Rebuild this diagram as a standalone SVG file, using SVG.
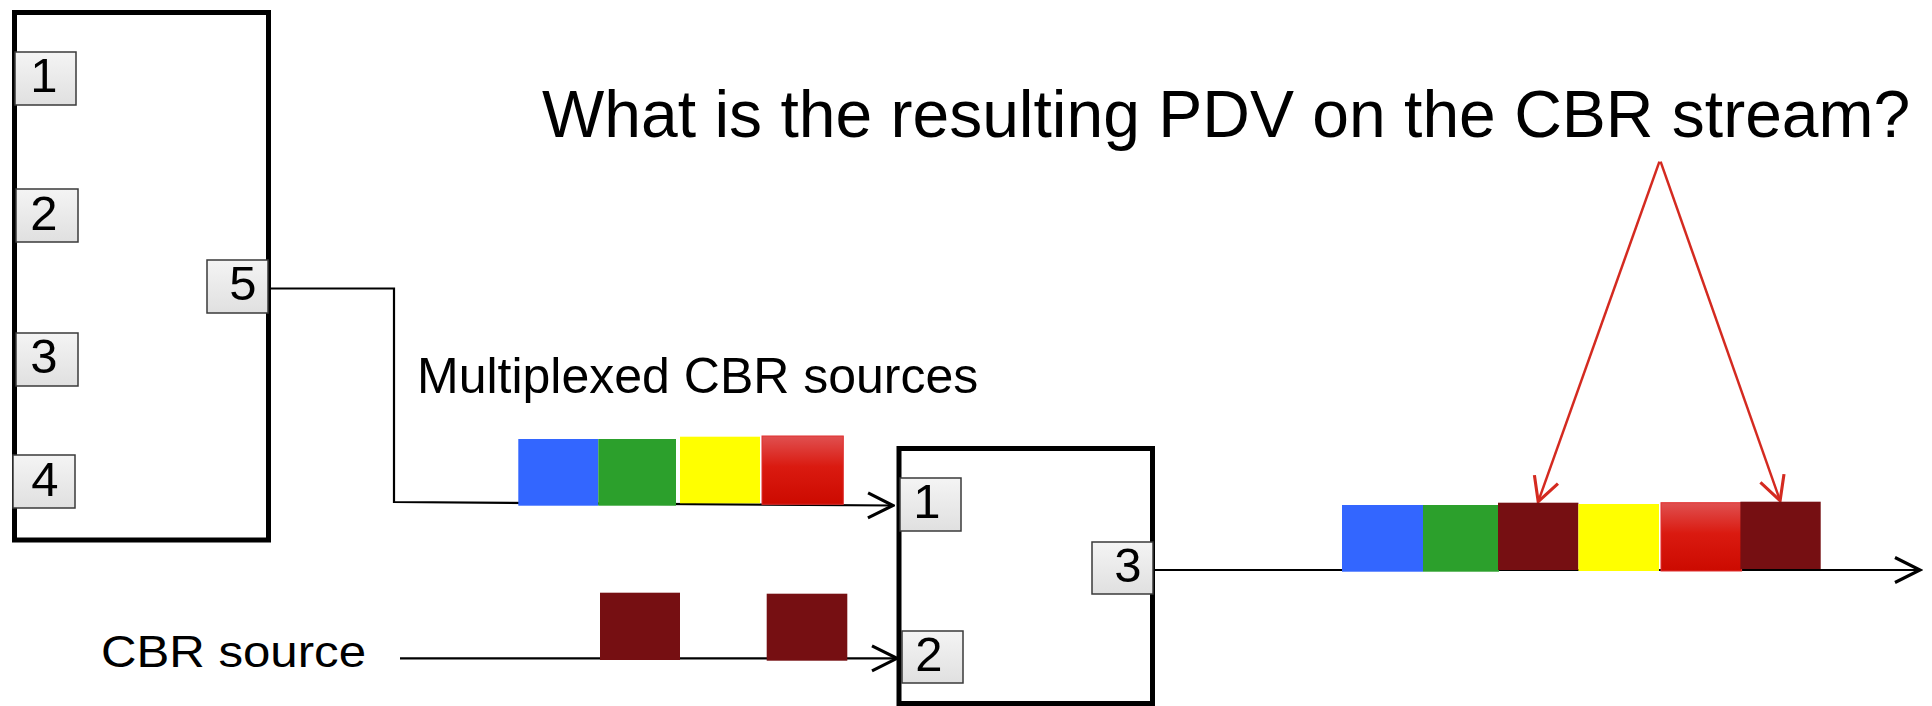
<svg xmlns="http://www.w3.org/2000/svg" width="1932" height="706" viewBox="0 0 1932 706">
<style>
.box{fill:#fff;stroke:#000;stroke-width:5}
.port{fill:url(#pg);stroke:#3a3a3a;stroke-width:1.5}
.pt{font-family:"Liberation Sans",Arial,sans-serif;font-size:49px;fill:#000;text-anchor:middle}
.lbl{font-family:"Liberation Sans",Arial,sans-serif;fill:#000}
.wire{fill:none;stroke:#000;stroke-width:2.2}
.rwire{fill:none;stroke:#d42a20;stroke-width:2.5}
.blue{fill:#3366ff}.green{fill:#2ca02c}.yellow{fill:#ffff00}.maroon{fill:#760f12}
.red{fill:url(#rg);stroke:#e03030;stroke-width:1}
</style>
<defs>
<linearGradient id="pg" x1="0" y1="0" x2="0" y2="1"><stop offset="0" stop-color="#f4f4f4"/><stop offset="1" stop-color="#e0e0e0"/></linearGradient>
<linearGradient id="rg" x1="0" y1="0" x2="0" y2="1"><stop offset="0" stop-color="#e05050"/><stop offset="0.45" stop-color="#da1a10"/><stop offset="1" stop-color="#cc0a00"/></linearGradient>
<marker id="ab" markerUnits="userSpaceOnUse" markerWidth="30" markerHeight="30" viewBox="-22 -12 24 24" refX="0" refY="0" orient="auto"><path d="M-20,-10 L0,0 L-20,10" fill="none" stroke="#000" stroke-width="2.5"/></marker>
<marker id="ar" markerUnits="userSpaceOnUse" markerWidth="30" markerHeight="30" viewBox="-22 -12 24 24" refX="0" refY="0" orient="auto"><path d="M-19,-10 L0,0 L-19,10" fill="none" stroke="#d42a20" stroke-width="2.5"/></marker>
</defs>
<rect width="1932" height="706" fill="#fff"/>

<g id="mux">
<rect class="box" x="14.5" y="12.5" width="254" height="527.5"/>
<rect class="port" x="15" y="52" width="61" height="53"/><text class="pt" x="44" y="92">1</text>
<rect class="port" x="16" y="189" width="62" height="53"/><text class="pt" x="44" y="230">2</text>
<rect class="port" x="16" y="333" width="62" height="53"/><text class="pt" x="44" y="373">3</text>
<rect class="port" x="13" y="455" width="62" height="53"/><text class="pt" x="45" y="496">4</text>
<rect class="port" x="207" y="260" width="61" height="53"/><text class="pt" x="243" y="300">5</text>
</g>

<g id="switch">
<rect class="box" x="899" y="448.5" width="253.5" height="255"/>
<rect class="port" x="900" y="478" width="61" height="53"/><text class="pt" x="927" y="518">1</text>
<rect class="port" x="902" y="631" width="61" height="52"/><text class="pt" x="929" y="671">2</text>
<rect class="port" x="1092" y="542" width="61" height="52"/><text class="pt" x="1128" y="582">3</text>
</g>

<g id="connectors">
<polyline class="wire" points="271,288.5 394,288.5 394,502 893,505.5" marker-end="url(#ab)"/>
<line class="wire" x1="400" y1="658.3" x2="897" y2="658.3" marker-end="url(#ab)"/>
<line class="wire" x1="1155" y1="570" x2="1920" y2="570" marker-end="url(#ab)"/>
<line class="rwire" x1="1659.4" y1="161.7" x2="1538.2" y2="501.7" marker-end="url(#ar)"/>
<line class="rwire" x1="1660.6" y1="161.7" x2="1780.1" y2="500.7" marker-end="url(#ar)"/>
</g>

<g id="mux-packets">
<rect class="blue" x="518.3" y="439" width="80" height="66.7"/>
<rect class="green" x="598.3" y="439" width="77.7" height="66.7"/>
<rect class="yellow" x="680" y="436.7" width="80" height="66.6"/>
<rect class="red" x="762" y="436" width="81.3" height="68.3"/>
</g>

<g id="cbr-packets">
<rect class="maroon" x="600" y="592.7" width="80" height="67.3"/>
<rect class="maroon" x="766.7" y="593.7" width="80.6" height="67"/>
</g>

<g id="output-packets">
<rect class="blue" x="1342" y="505" width="81" height="66.7"/>
<rect class="green" x="1423" y="505" width="76" height="66.7"/>
<rect class="maroon" x="1498" y="502.7" width="80.4" height="67.3"/>
<rect class="yellow" x="1578.4" y="504" width="80.6" height="67"/>
<rect class="red" x="1661" y="502.7" width="80.6" height="68.3"/>
<rect class="maroon" x="1740.4" y="501.7" width="80.3" height="67.3"/>
</g>

<g id="labels">
<text class="lbl" x="542" y="137" font-size="66">What is the resulting PDV on the CBR stream?</text>
<text class="lbl" x="417" y="393" font-size="50">Multiplexed CBR sources</text>
<text class="lbl" x="101" y="666.5" font-size="45" textLength="265" lengthAdjust="spacingAndGlyphs">CBR source</text>
</g>
</svg>
